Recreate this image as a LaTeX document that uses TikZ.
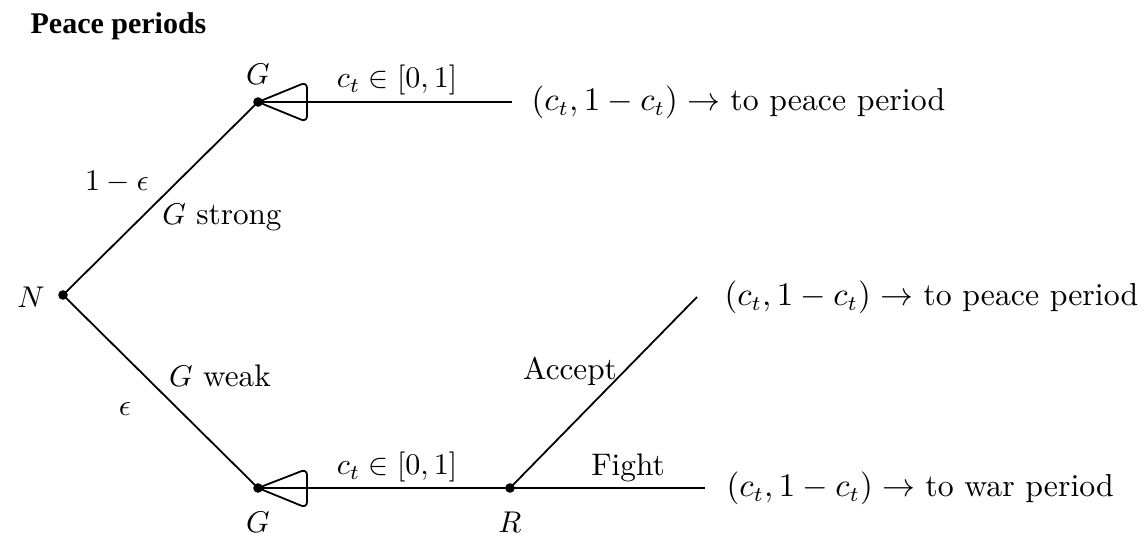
\documentclass[tikz,border=0pt]{standalone}
\usepackage{fontspec}
\newfontfamily\titlefont{Liberation Serif}
\begin{document}
\begin{tikzpicture}[x=0.3333pt,y=-0.3333pt,
  font=\fontsize{10.4}{12.5}\selectfont,
  dot/.style={circle,fill=black,inner sep=0pt,minimum size=3.2pt},
  edge/.style={line width=0.6pt},
  loopline/.style={line width=0.6pt,rounded corners=2pt},
  lab/.style={inner sep=0pt},
  payoff/.style={inner sep=0pt,anchor=west,font=\fontsize{10.6}{13}\selectfont}]
\useasboundingbox (0,0) rectangle (1144,541);
\node[lab,anchor=base west] (title) at (30,33) {\fontsize{10}{12}\selectfont\titlefont\bfseries Peace periods};
% decision nodes
\node[dot] (N) at (63,295) {};
\node[dot] (Gt) at (258,102) {};
\node[dot] (Gb) at (258,488) {};
\node[dot] (R) at (510,488) {};
\node[lab] (Nl) at (31,297) {$N$};
\node[lab] (Gtl) at (258,74) {$G$};
\node[lab] (Gbl) at (258,522) {$G$};
\node[lab] (Rl) at (510,522) {$R$};
% end points
\coordinate (Tend) at (512,102);
\coordinate (Aend) at (697,297);
\coordinate (Fend) at (705,488);
% edges
\draw[edge] (N.center) -- (Gt.center);
\draw[edge] (N.center) -- (Gb.center);
\draw[edge] (Gt.center) -- (Tend);
\draw[edge] (Gb.center) -- (R.center);
\draw[edge] (R.center) -- (Aend);
\draw[edge] (R.center) -- (Fend);
% loops
\draw[loopline] (Gt.center) -- (307,82) -- (307,122) -- cycle;
\draw[loopline] (Gb.center) -- (307,469) -- (307,508) -- cycle;
% edge labels
\node[lab] (p1) at (117,182) {$1-\epsilon$};
\node[lab] (gs) at (222,217) {$G$ strong};
\node[lab] (gw) at (220,376) {$G$ weak};
\node[lab] (p2) at (125,409) {$\epsilon$};
\node[lab] (ct1) at (397,80) {$c_t\in[0,1]$};
\node[lab] (ct2) at (397,467) {$c_t\in[0,1]$};
\node[lab] (acc) at (570,371) {Accept};
\node[lab] (fig) at (628,468) {Fight};
% payoffs
\node[payoff] (o1) at (531,102) {$(c_t,1-c_t)\rightarrow$ to peace period};
\node[payoff] (o2) at (724,297) {$(c_t,1-c_t)\rightarrow$ to peace period};
\node[payoff] (o3) at (726,488) {$(c_t,1-c_t)\rightarrow$ to war period};
\end{tikzpicture}
\end{document}
